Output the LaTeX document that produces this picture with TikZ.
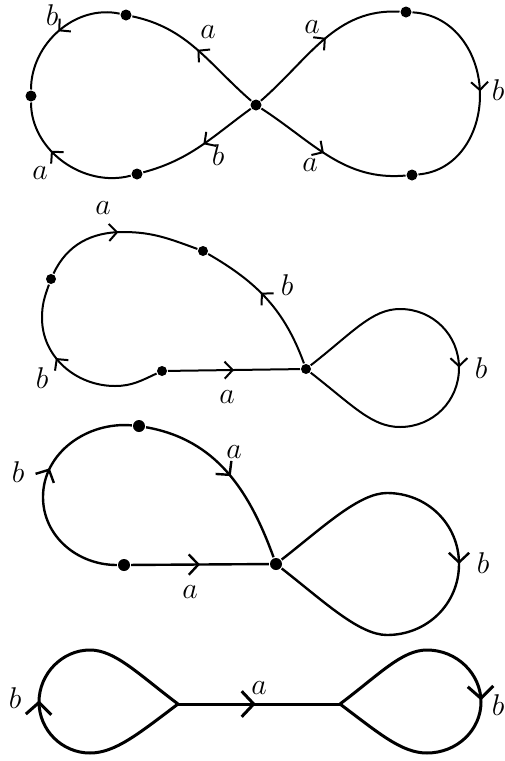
\documentclass[tikz,border=0pt]{standalone}
\usepackage{fix-cm}
\usetikzlibrary{arrows.meta,decorations.markings}
\begin{document}
\begin{tikzpicture}[x=1pt,y=1pt,
  dot/.style={circle,fill,inner sep=0pt,minimum size=#1},
  dot/.default=11pt,
  mid/.style={postaction={decorate},decoration={markings,
    mark=at position #1 with {\arrow{Straight Barb[length=0pt 4,width=0pt 8.5]}}}},
  lab/.style={inner sep=0pt,font=\fontsize{30}{34}\selectfont}]
\useasboundingbox (0,0) rectangle (504,-761);

% figure eight
\begin{scope}[line width=2pt]
\node[dot] (c1) at (256,-105) {};
\node[dot] (t1) at (126,-15) {};
\node[dot] (l1) at (31,-96) {};
\node[dot] (b1) at (137,-174) {};
\node[dot] (t2) at (406,-12) {};
\node[dot] (b2) at (412,-175) {};
\coordinate (r1) at (480,-95);
\draw[mid=0.5] (c1) to[out=139,in=-12] (t1);
\draw[mid=0.5] (t1) to[out=168,in=90] (l1);
\draw[mid=0.62] (b1) to[out=195,in=-90] (l1);
\draw[mid=0.47] (c1) to[out=216,in=15] (b1);
\draw[mid=0.53] (c1) to[out=41,in=177] (t2);
\draw[mid=0.5] (t2) to[out=-3,in=90] (r1) to[out=-90,in=5] (b2);
\draw[mid=0.47] (c1) to[out=-33,in=185] (b2);
\node[lab] (lb1) at (52,-15) {$b$};
\node[lab] (la1) at (208,-32) {$a$};
\node[lab] (la2) at (40,-173) {$a$};
\node[lab] (lb2) at (218,-155) {$b$};
\node[lab] (la3) at (312,-27) {$a$};
\node[lab] (lb3) at (498,-90) {$b$};
\node[lab] (la4) at (310,-165) {$a$};
\end{scope}

% second
\begin{scope}[line width=2pt]
\node[dot=10pt] (c2) at (306,-369) {};
\node[dot=10pt] (s2) at (162,-371) {};
\node[dot=10pt] (l2) at (51,-279) {};
\node[dot=10pt] (u2) at (203,-251) {};
\draw[mid=0.5] (s2) -- (c2);
\draw[mid=0.59] (s2) to[out=205,in=0] (115,-386) to[out=180,in=-90] (42,-318) to[out=90,in=250] (l2);
\draw[mid=0.5] (l2) to[out=65,in=180] (123,-232) to[out=0,in=160] (u2);
\draw[mid=0.56] (c2) to[out=110,in=-30] (u2);
\draw[mid=0.5] (c2) .. controls +(38:60) and +(180:28) .. (400,-309)
  .. controls +(0:33) and +(90:33) .. (459,-368)
  .. controls +(-90:33) and +(0:33) .. (400,-427)
  .. controls +(180:28) and +(-38:60) .. (c2);
\node[lab] (la5) at (103,-208) {$a$};
\node[lab] (lb4) at (287,-285) {$b$};
\node[lab] (lb5) at (42,-378) {$b$};
\node[lab] (la6) at (227,-397) {$a$};
\node[lab] (lb6) at (481,-368) {$b$};
\end{scope}

% third
\begin{scope}[line width=2.4pt]
\node[dot=12pt] (c3) at (276,-564) {};
\node[dot=12pt] (s3) at (124,-565) {};
\node[dot=12pt] (t3) at (139,-426) {};
\draw[mid=0.5] (s3) -- (c3);
\draw[mid=0.59] (s3) to[out=180,in=-90] (43,-497) to[out=90,in=175] (t3);
\draw[mid=0.52] (t3) to[out=-10,in=110] (c3);
\draw[mid=0.5] (c3) .. controls +(38:60) and +(180:28) .. (387,-493)
  .. controls +(0:40) and +(90:40) .. (459,-564)
  .. controls +(-90:40) and +(0:40) .. (387,-635)
  .. controls +(180:28) and +(-38:60) .. (c3);
\node[lab] (lb7) at (18,-472) {$b$};
\node[lab] (la7) at (234,-452) {$a$};
\node[lab] (la8) at (190,-592) {$a$};
\node[lab] (lb8) at (483,-563) {$b$};
\end{scope}

% fourth
\begin{scope}[line width=3pt]
\coordinate (n1) at (178,-704);
\coordinate (n2) at (340,-704);
\draw[mid=0.5] (n1) .. controls +(-143:50) and +(0:25) .. (90,-753)
  .. controls +(180:28) and +(-90:28) .. (39,-702)
  .. controls +(90:28) and +(180:28) .. (90,-650)
  .. controls +(0:25) and +(143:50) .. (n1);
\draw[mid=0.48] (n1) -- (n2);
\draw[mid=0.5] (n2) .. controls +(37:50) and +(180:25) .. (427,-650)
  .. controls +(0:30) and +(90:28) .. (481,-702)
  .. controls +(-90:28) and +(0:30) .. (427,-753)
  .. controls +(180:25) and +(-37:50) .. (n2);
\node[lab] (lb9) at (15,-698) {$b$};
\node[lab] (la9) at (259,-688) {$a$};
\node[lab] (lb10) at (498,-705) {$b$};
\end{scope}
\end{tikzpicture}
\end{document}
